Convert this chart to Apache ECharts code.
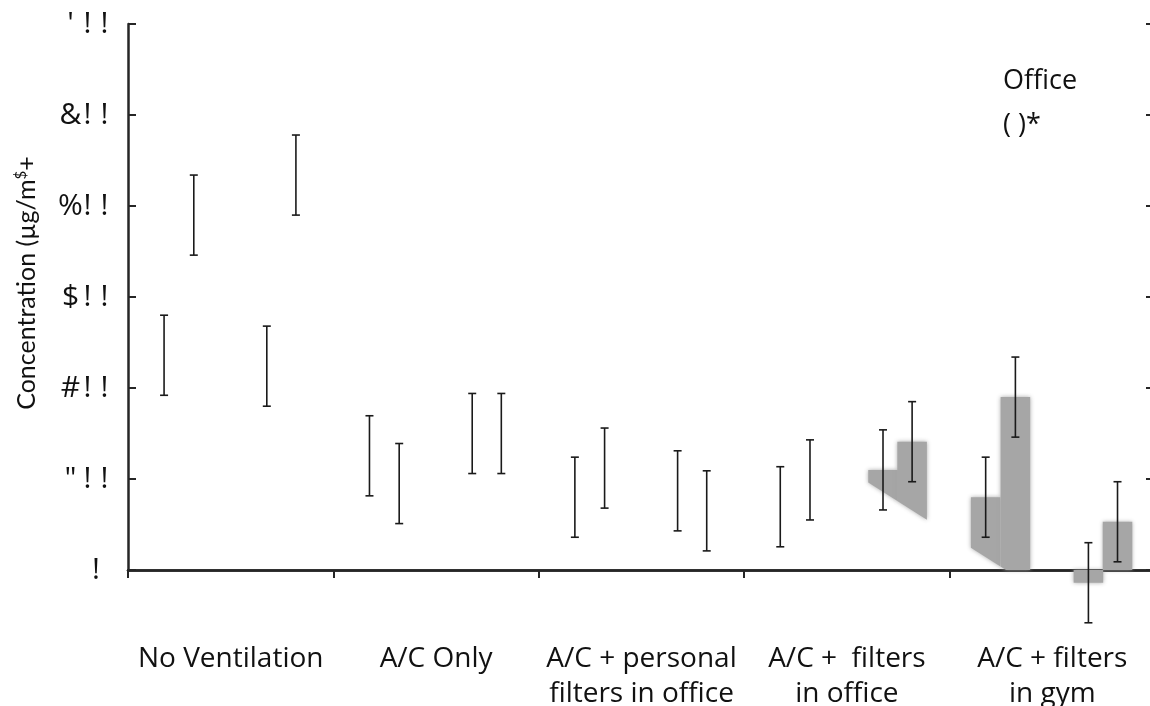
<!DOCTYPE html>
<html>
<head>
<meta charset="utf-8">
<title>Concentration chart</title>
<script src="https://cdn.jsdelivr.net/npm/echarts@6/dist/echarts.min.js"></script>
<style>
    html, body {margin: 0; padding: 0; background: #fff;}
    #chart {width: 1150px; height: 706px;}
</style>
</head>
<body>
<div id="chart"></div>
<script>
const categories = ['No Ventilation', 'A/C Only', 'A/C + personal\nfilters in office',
    'A/C +  filters\nin office', 'A/C + filters\nin gym'];

// bar means
const series1 = [236, 125.5, 80, 69.5, 80];
const series2 = [390, 95, 112, 99, 190];
const series3 = [224, 150, 87, 110, -14];
const series4 = [434, 150, 65, 141, 53];

const errors1 = [44, 44, 44, 44, 44];
const errors2 = [44, 44, 44, 44, 44];
const errors3 = [44, 44, 44, 44, 44];
const errors4 = [44, 44, 44, 44, 44];

const seriesNames = ['Office', '( )*', 'Office (2)', '( )* (2)'];
const legendNames = ['Office', '( )*'];

// garbled tick labels for 0..600
const yTickLabels = ['!', '"!!', '#!!', '$!!', '%!!', '&!!', "'!!"];

// layout of the four bars inside a category band (fraction of band)
const barOffsets = [-0.3244, -0.1797, 0.1758, 0.3175];
const barWidth = 0.1437;
// the gray fill only shows above this diagonal (shadow artifact)
const cut = {x: 867, y: 481.7, slope: 0.635};

const cutY = x => cut.y + cut.slope * (x - cut.x);

function clipAbove(pts) {
    let out = [];
    for (let i = 0; i < pts.length; i++) {
        const a = pts[i], b = pts[(i + 1) % pts.length];
        const da = a[1] - cutY(a[0]), db = b[1] - cutY(b[0]);
        if (da <= 0) out.push(a);
        if ((da < 0 && db > 0) || (da > 0 && db < 0)) {
            const t = da / (da - db);
            out.push([a[0] + t * (b[0] - a[0]), a[1] + t * (b[1] - a[1])]);
        }
    }
    return out;
}

const barRenderer = offset => (params, api) => {
    const band = api.size([1, 0])[0];
    const base = api.coord([api.value(0), 0]);
    const topP = api.coord([api.value(0), api.value(1)]);
    const cx = base[0] + offset * band;
    const hw = barWidth * band / 2;
    const pts = clipAbove([[cx - hw, topP[1]], [cx + hw, topP[1]], [cx + hw, base[1]], [cx - hw, base[1]]]);
    if (pts.length < 3) return null;
    return {
        type: 'polygon',
        shape: {points: pts},
        style: {fill: '#a6a6a6', shadowBlur: 4, shadowColor: 'rgba(160,160,160,0.9)'}
    };
};

const errorRenderer = offset => (params, api) => {
    const band = api.size([1, 0])[0];
    const lo = api.coord([api.value(0), api.value(1)]);
    const hi = api.coord([api.value(0), api.value(2)]);
    const x = lo[0] + offset * band;
    const cap = 4;
    const style = {stroke: '#1a1a1a', lineWidth: 1.6};
    return {
        type: 'group',
        children: [
            {type: 'line', shape: {x1: x, y1: hi[1], x2: x, y2: lo[1]}, style: style},
            {type: 'line', shape: {x1: x - cap, y1: hi[1], x2: x + cap, y2: hi[1]}, style: style},
            {type: 'line', shape: {x1: x - cap, y1: lo[1], x2: x + cap, y2: lo[1]}, style: style}
        ]
    };
};

const means = [series1, series2, series3, series4];
const errs = [errors1, errors2, errors3, errors4];

const barSeries = means.map((m, k) => ({
    type: 'custom',
    name: seriesNames[k],
    renderItem: barRenderer(barOffsets[k]),
    data: m.map((v, i) => [i, v]),
    z: 2,
    silent: true
}));

const errorSeries = means.map((m, k) => ({
    type: 'custom',
    name: seriesNames[k],
    renderItem: errorRenderer(barOffsets[k]),
    data: m.map((v, i) => [i, v - errs[k][i], v + errs[k][i]]),
    z: 3,
    silent: true
}));

const axisColor = '#262626';
const font = '"Open Sans", sans-serif';
const titleFont = 'Lato, "Open Sans", sans-serif';

const chart = echarts.init(document.getElementById('chart'));
chart.setOption({
    animation: false,
    backgroundColor: '#fff',
    grid: {left: 128, right: -5, top: 24, bottom: 136, outerBoundsMode: 'none'},
    legend: {
        data: legendNames,
        orient: 'vertical',
        left: 983,
        top: 63,
        icon: 'rect',
        itemWidth: 10,
        itemHeight: 10,
        itemGap: 17,
        itemStyle: {color: 'rgba(0,0,0,0)', borderWidth: 0},
        textStyle: {fontFamily: font, fontSize: 27, color: '#111'}
    },
    xAxis: [{
        type: 'category',
        data: categories,
        position: 'bottom',
        axisLine: {lineStyle: {color: axisColor, width: 2.5}},
        axisTick: {show: true, length: 8, lineStyle: {color: axisColor, width: 2}},
        axisLabel: {
            interval: 0, margin: 72, color: '#111',
            fontFamily: font, fontSize: 28, lineHeight: 35
        },
        splitLine: {show: false}
    }, {
        type: 'category',
        data: categories,
        position: 'top',
        axisLine: {lineStyle: {color: axisColor, width: 2.5}},
        axisTick: {show: false},
        axisLabel: {show: false}
    }],
    yAxis: [{
        type: 'value',
        min: 0,
        max: 600,
        interval: 100,
        position: 'left',
        name: 'Concentration (µg/m{sup|$}+',
        nameLocation: 'middle',
        nameGap: 89,
        nameTextStyle: {
            fontFamily: titleFont,
            fontSize: 25,
            color: '#111',
            padding: [0, 0, 0, 28],
            rich: {
                sup: {fontSize: 15, verticalAlign: 'top', color: '#111', fontFamily: titleFont}
            }
        },
        axisLine: {show: true, lineStyle: {color: axisColor, width: 2.5}},
        axisTick: {show: true, inside: true, length: 8, lineStyle: {color: axisColor, width: 2}},
        axisLabel: {
            margin: 15,
            formatter: v => {
                const s = yTickLabels[Math.round(v / 100)];
                let out = s.split('').map(ch => '{c|' + ch + '}').join('');
                if (s.length === 1) out += '{p| }';
                return out;
            },
            rich: {
                c: {width: 17, align: 'center', fontFamily: font, fontSize: 30, color: '#111'},
                p: {width: 8.5, fontFamily: font, fontSize: 30}
            }
        },
        splitLine: {show: false}
    }, {
        type: 'value',
        min: 0,
        max: 600,
        interval: 100,
        position: 'right',
        axisLine: {show: true, lineStyle: {color: axisColor, width: 2.5}},
        axisTick: {show: true, inside: true, length: 9, lineStyle: {color: axisColor, width: 2}},
        axisLabel: {show: false},
        splitLine: {show: false}
    }],
    series: barSeries.concat(errorSeries)
});
</script>
</body>
</html>
